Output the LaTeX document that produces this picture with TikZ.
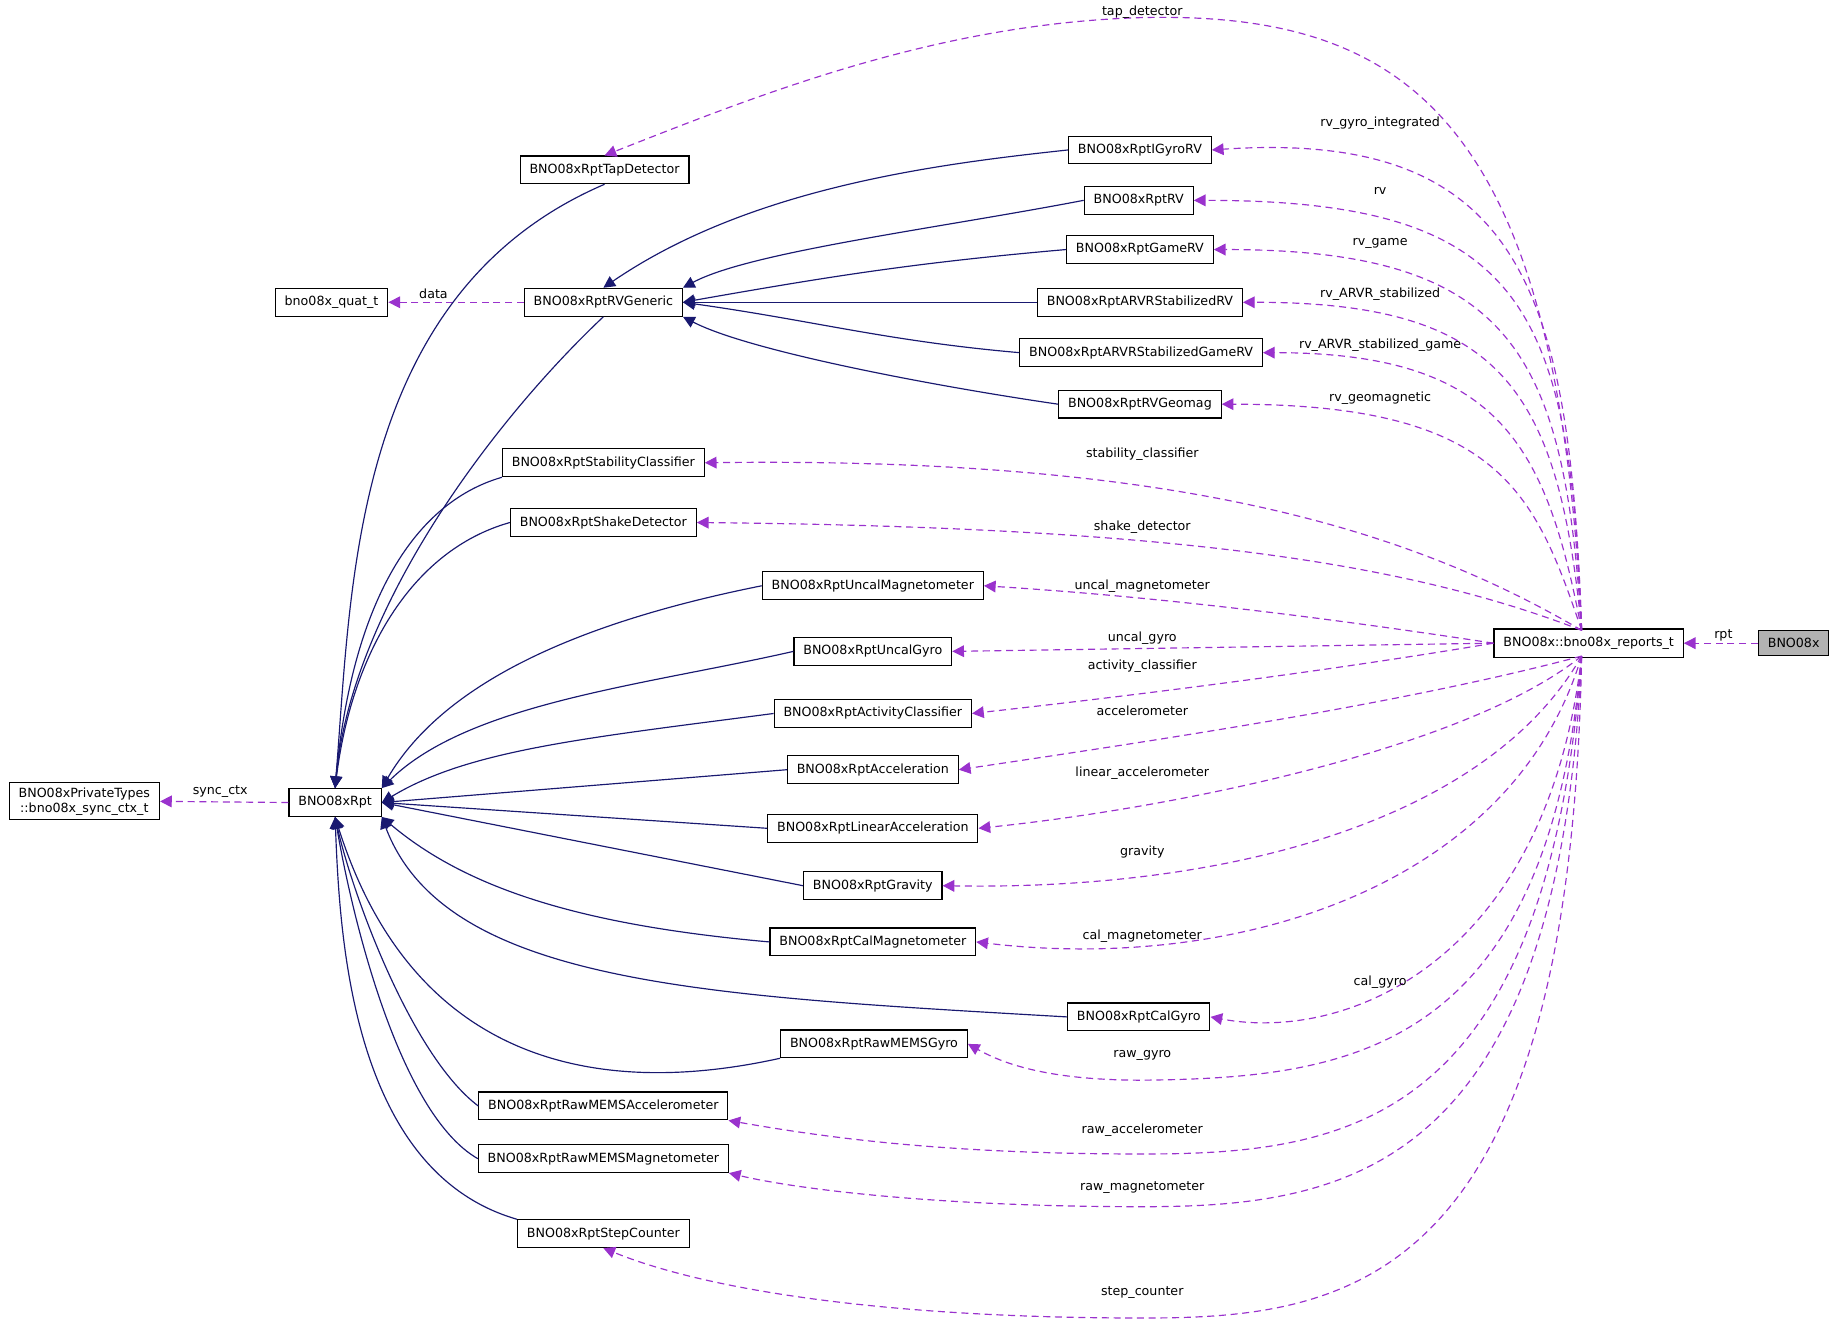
\documentclass[tikz,border=0pt]{standalone}
\usepackage{fontspec}
\setmainfont{DejaVu Sans}
\usetikzlibrary{arrows.meta}
\begin{document}
\begin{tikzpicture}[x=0.5pt,y=-0.5pt,font=\fontsize{5.4}{6.4}\selectfont,
 box/.style={draw,fill=white,inner xsep=4pt,minimum height=10.5pt,line width=0.5pt},
 inh/.style={draw={rgb,255:red,25;green,25;blue,112},line width=0.5pt,-{Triangle[length=5pt,width=5pt]}},
 dep/.style={draw={rgb,255:red,154;green,50;blue,205},dashed,line width=0.5pt,dash pattern=on 3pt off 2pt,-{Triangle[length=5pt,width=5pt]}},
 lab/.style={inner sep=0pt}]
\useasboundingbox (0,0) rectangle (1568,1135);
\node[box,fill=gray!60] (bno) at (1531,549) {BNO08x};
\node[box] (rep) at (1356,549) {BNO08x::bno08x\_reports\_t};
\node[box] (tap) at (516,145) {BNO08xRptTapDetector};
\node[box] (igyro) at (973,128) {BNO08xRptIGyroRV};
\node[box] (rv) at (972,171) {BNO08xRptRV};
\node[box] (game) at (973,213) {BNO08xRptGameRV};
\node[box] (arvr) at (973,258) {BNO08xRptARVRStabilizedRV};
\node[box] (arvrg) at (974,301) {BNO08xRptARVRStabilizedGameRV};
\node[box] (geo) at (973,345) {BNO08xRptRVGeomag};
\node[box] (quat) at (283,258) {bno08x\_quat\_t};
\node[box] (gen) at (515,258) {BNO08xRptRVGeneric};
\node[box] (stab) at (515,395) {BNO08xRptStabilityClassifier};
\node[box] (shake) at (515,446) {BNO08xRptShakeDetector};
\node[box] (umag) at (745,500) {BNO08xRptUncalMagnetometer};
\node[box] (ugyro) at (745,556) {BNO08xRptUncalGyro};
\node[box] (act) at (745,609) {BNO08xRptActivityClassifier};
\node[box] (acc) at (745,657) {BNO08xRptAcceleration};
\node[box] (lin) at (745,707) {BNO08xRptLinearAcceleration};
\node[box] (grav) at (745,756) {BNO08xRptGravity};
\node[box] (cmag) at (745,804) {BNO08xRptCalMagnetometer};
\node[box] (cgyro) at (972,868) {BNO08xRptCalGyro};
\node[box] (rgyro) at (746,891) {BNO08xRptRawMEMSGyro};
\node[box] (racc) at (515,944) {BNO08xRptRawMEMSAccelerometer};
\node[box] (rmag) at (515,989) {BNO08xRptRawMEMSMagnetometer};
\node[box] (step) at (515,1053) {BNO08xRptStepCounter};
\node[box] (rpt) at (286,685) {BNO08xRpt};
\node[box,align=center,inner ysep=2pt] (priv) at (72,684) {BNO08xPrivateTypes\\::bno08x\_sync\_ctx\_t};
% dependencies
\draw[dep] (bno.west) -- (rep.east);
\node[lab] at (1471,542) {rpt};
\draw[dep] (rpt.west) -- (priv.east);
\node[lab] at (188,676) {sync\_ctx};
\draw[dep] (gen.west) -- (quat.east);
\node[lab] at (370,251) {data};
% inheritance
\draw[inh] (igyro.west) .. controls (800,140) and (640,160) .. (gen.north);
\draw[inh] (rv.west) .. controls (800,195) and (640,215) .. (gen.north east);
\draw[inh] (game.west) to[out=185,in=10] (gen.east);
\draw[inh] (arvr.west) -- (gen.east);
\draw[inh] (arvrg.west) to[out=175,in=-8] (gen.east);
\draw[inh] (geo.west) .. controls (800,330) and (640,300) .. (gen.south east);
\draw[inh] (tap.south) .. controls (300,250) and (300,500) .. (rpt.north);
\draw[inh] (gen.south) .. controls (420,360) and (300,520) .. (rpt.north);
\draw[inh] (stab.south west) .. controls (350,430) and (300,520) .. (rpt.north);
\draw[inh] (shake.west) .. controls (350,470) and (300,560) .. (rpt.north);
\draw[inh] (umag.west) .. controls (500,530) and (380,580) .. (rpt.north east);
\draw[inh] (ugyro.west) .. controls (550,585) and (400,600) .. (rpt.north east);
\draw[inh] (act.west) .. controls (500,630) and (400,640) .. (rpt.east);
\draw[inh] (acc.west) -- (rpt.east);
\draw[inh] (lin.west) -- (rpt.east);
\draw[inh] (grav.west) -- (rpt.east);
\draw[inh] (cmag.west) .. controls (500,790) and (400,760) .. (rpt.south east);
\draw[inh] (cgyro.west) .. controls (600,850) and (380,840) .. (rpt.south east);
\draw[inh] (rgyro.south west) .. controls (500,940) and (350,900) .. (rpt.south);
\draw[inh] (racc.west) .. controls (350,900) and (300,760) .. (rpt.south);
\draw[inh] (rmag.west) .. controls (340,950) and (300,780) .. (rpt.south);
\draw[inh] (step.north west) .. controls (300,1000) and (290,800) .. (rpt.south);
% members
\coordinate (t) at (1350,538);
\coordinate (b) at (1350,560);
\draw[dep] (t) .. controls (1330,100) and (1200,10) .. (975,15) .. controls (800,20) and (650,80) .. (tap.north);
\node[lab] at (975,10) {tap\_detector};
\draw[dep] (t) .. controls (1340,250) and (1300,110) .. (igyro.east);
\node[lab] at (1178,105) {rv\_gyro\_integrated};
\draw[dep] (t) .. controls (1340,260) and (1300,171) .. (rv.east);
\node[lab] at (1178,163) {rv};
\draw[dep] (t) .. controls (1335,300) and (1290,213) .. (game.east);
\node[lab] at (1178,208) {rv\_game};
\draw[dep] (t) .. controls (1330,330) and (1280,258) .. (arvr.east);
\node[lab] at (1178,251) {rv\_ARVR\_stabilized};
\draw[dep] (t) .. controls (1320,380) and (1280,301) .. (arvrg.east);
\node[lab] at (1178,295) {rv\_ARVR\_stabilized\_game};
\draw[dep] (t) .. controls (1310,420) and (1280,345) .. (geo.east);
\node[lab] at (1178,340) {rv\_geomagnetic};
\draw[dep] (t) .. controls (1200,450) and (1000,390) .. (stab.east);
\node[lab] at (975,388) {stability\_classifier};
\draw[dep] (t) .. controls (1200,480) and (1000,450) .. (shake.east);
\node[lab] at (975,450) {shake\_detector};
\draw[dep] (rep.west) .. controls (1150,530) and (1000,510) .. (umag.east);
\node[lab] at (975,500) {uncal\_magnetometer};
\draw[dep] (rep.west) -- (ugyro.east);
\node[lab] at (975,545) {uncal\_gyro};
\draw[dep] (rep.west) .. controls (1150,570) and (1000,590) .. (act.east);
\node[lab] at (975,569) {activity\_classifier};
\draw[dep] (b) .. controls (1200,600) and (1000,630) .. (acc.east);
\node[lab] at (975,607) {accelerometer};
\draw[dep] (b) .. controls (1250,640) and (1000,690) .. (lin.east);
\node[lab] at (975,660) {linear\_accelerometer};
\draw[dep] (b) .. controls (1270,700) and (1050,760) .. (grav.east);
\node[lab] at (975,727) {gravity};
\draw[dep] (b) .. controls (1290,760) and (1050,830) .. (cmag.east);
\node[lab] at (975,799) {cal\_magnetometer};
\draw[dep] (b) .. controls (1320,820) and (1150,890) .. (cgyro.east);
\node[lab] at (1178,838) {cal\_gyro};
\draw[dep] (b) .. controls (1320,900) and (1150,920) .. (975,922) .. controls (900,922) and (860,910) .. (rgyro.east);
\node[lab] at (975,901) {raw\_gyro};
\draw[dep] (b) .. controls (1320,960) and (1150,985) .. (975,985) .. controls (800,985) and (700,970) .. (racc.south east);
\node[lab] at (975,965) {raw\_accelerometer};
\draw[dep] (b) .. controls (1330,1000) and (1150,1030) .. (975,1030) .. controls (800,1030) and (680,1015) .. (rmag.south east);
\node[lab] at (975,1014) {raw\_magnetometer};
\draw[dep] (b) .. controls (1340,1100) and (1150,1125) .. (975,1125) .. controls (750,1125) and (600,1100) .. (step.south);
\node[lab] at (975,1103) {step\_counter};
\end{tikzpicture}
\end{document}
